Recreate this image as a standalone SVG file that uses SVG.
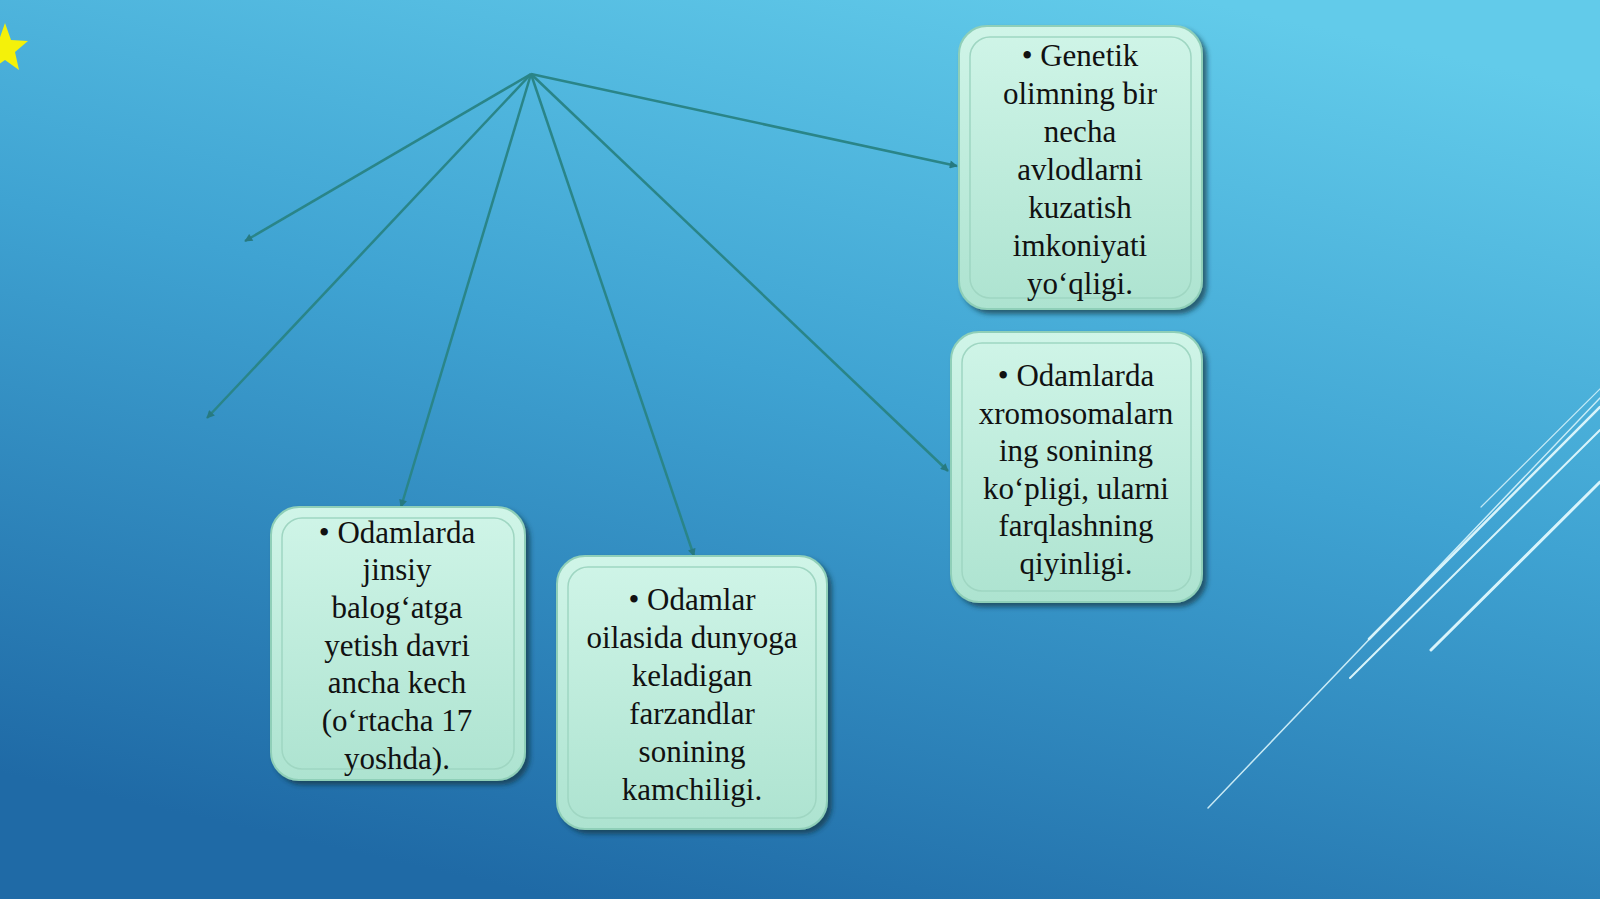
<svg xmlns="http://www.w3.org/2000/svg" width="1600" height="899" viewBox="0 0 1600 899">
  <defs>
    <linearGradient id="bg" x1="0.75" y1="0" x2="0.35" y2="1">
      <stop offset="0" stop-color="#62cbea"/>
      <stop offset="0.45" stop-color="#3fa3d2"/>
      <stop offset="1" stop-color="#1f6aa6"/>
    </linearGradient>
    <linearGradient id="boxfill" x1="0" y1="0" x2="0" y2="1">
      <stop offset="0" stop-color="#d0f5e8"/>
      <stop offset="1" stop-color="#ade3d0"/>
    </linearGradient>
    <filter id="shadow" x="-10%" y="-10%" width="125%" height="125%">
      <feDropShadow dx="4" dy="4" stdDeviation="2.5" flood-color="#0b2f3a" flood-opacity="0.65"/>
    </filter>
    <marker id="arrow" viewBox="0 0 10 10" refX="9" refY="5" markerWidth="9" markerHeight="8" orient="auto" markerUnits="userSpaceOnUse">
      <path d="M0,0 L10,5 L0,10 z" fill="#277a80"/>
    </marker>
    <style>
      .box { fill: url(#boxfill); stroke: #8fcfb8; stroke-width: 2; filter: url(#shadow); }
      .inner { fill: none; stroke: #9fd6c2; stroke-width: 1.5; }
      .txt { font-family: "Liberation Serif", "Times New Roman", serif; font-size: 31px; fill: #111111; text-anchor: middle; }
      .conn { stroke: #2a8588; stroke-width: 2.5; fill: none; marker-end: url(#arrow); }
      .deco { stroke: #d8f4fb; fill: none; stroke-linecap: round; }
    </style>
  </defs>

  <rect x="0" y="0" width="1600" height="899" fill="url(#bg)"/>

  <!-- star -->
  <polygon points="5,23 11,40 28,41 15,52 19,70 5,60 -9,70 -5,52 -18,41 -1,40" fill="#f4f10a"/>

  <!-- decorative lines -->
  <g id="decor">
    <line class="deco" x1="1208" y1="808" x2="1600" y2="398" stroke-width="1.5" opacity="0.9"/>
    <line class="deco" x1="1369" y1="639" x2="1600" y2="407" stroke-width="2.5"/>
    <line class="deco" x1="1350" y1="678" x2="1600" y2="430" stroke-width="2"/>
    <line class="deco" x1="1431" y1="650" x2="1600" y2="482" stroke-width="3"/>
    <line class="deco" x1="1481" y1="507" x2="1600" y2="389" stroke-width="1.2" opacity="0.85"/>
  </g>

  <!-- connectors -->
  <g id="connectors">
    <line class="conn" x1="531" y1="74" x2="245" y2="241"/>
    <line class="conn" x1="531" y1="74" x2="207" y2="418"/>
    <line class="conn" x1="531" y1="74" x2="401" y2="507"/>
    <line class="conn" x1="531" y1="74" x2="694" y2="556"/>
    <line class="conn" x1="531" y1="74" x2="948" y2="471"/>
    <line class="conn" x1="531" y1="74" x2="957" y2="166"/>
  </g>

  <g id="node-genetik">
    <rect class="box" x="959" y="26" width="243" height="283" rx="28"/>
    <rect class="inner" x="970" y="37" width="221" height="261" rx="20"/>
    <text class="txt" x="1080" y="65.5">• Genetik</text>
    <text class="txt" x="1080" y="103.5">olimning bir</text>
    <text class="txt" x="1080" y="141.5">necha</text>
    <text class="txt" x="1080" y="179.5">avlodlarni</text>
    <text class="txt" x="1080" y="217.5">kuzatish</text>
    <text class="txt" x="1080" y="255.5">imkoniyati</text>
    <text class="txt" x="1080" y="293.5">yo‘qligi.</text>
  </g>

  <g id="node-xromosoma">
    <rect class="box" x="951" y="332" width="251" height="270" rx="28"/>
    <rect class="inner" x="962" y="343" width="229" height="248" rx="20"/>
    <text class="txt" x="1076" y="386">• Odamlarda</text>
    <text class="txt" x="1076" y="423.5">xromosomalarn</text>
    <text class="txt" x="1076" y="461">ing sonining</text>
    <text class="txt" x="1076" y="498.5">ko‘pligi, ularni</text>
    <text class="txt" x="1076" y="536">farqlashning</text>
    <text class="txt" x="1076" y="573.5">qiyinligi.</text>
  </g>

  <g id="node-jinsiy">
    <rect class="box" x="271" y="507" width="254" height="273" rx="28"/>
    <rect class="inner" x="282" y="518" width="232" height="251" rx="20"/>
    <text class="txt" x="397" y="542.5">• Odamlarda</text>
    <text class="txt" x="397" y="580.2">jinsiy</text>
    <text class="txt" x="397" y="617.9">balog‘atga</text>
    <text class="txt" x="397" y="655.6">yetish davri</text>
    <text class="txt" x="397" y="693.3">ancha kech</text>
    <text class="txt" x="397" y="731">(o‘rtacha 17</text>
    <text class="txt" x="397" y="768.7">yoshda).</text>
  </g>

  <g id="node-farzandlar">
    <rect class="box" x="557" y="556" width="270" height="273" rx="28"/>
    <rect class="inner" x="568" y="567" width="248" height="251" rx="20"/>
    <text class="txt" x="692" y="610">• Odamlar</text>
    <text class="txt" x="692" y="648">oilasida dunyoga</text>
    <text class="txt" x="692" y="686">keladigan</text>
    <text class="txt" x="692" y="724">farzandlar</text>
    <text class="txt" x="692" y="762">sonining</text>
    <text class="txt" x="692" y="800">kamchiligi.</text>
  </g>
</svg>
